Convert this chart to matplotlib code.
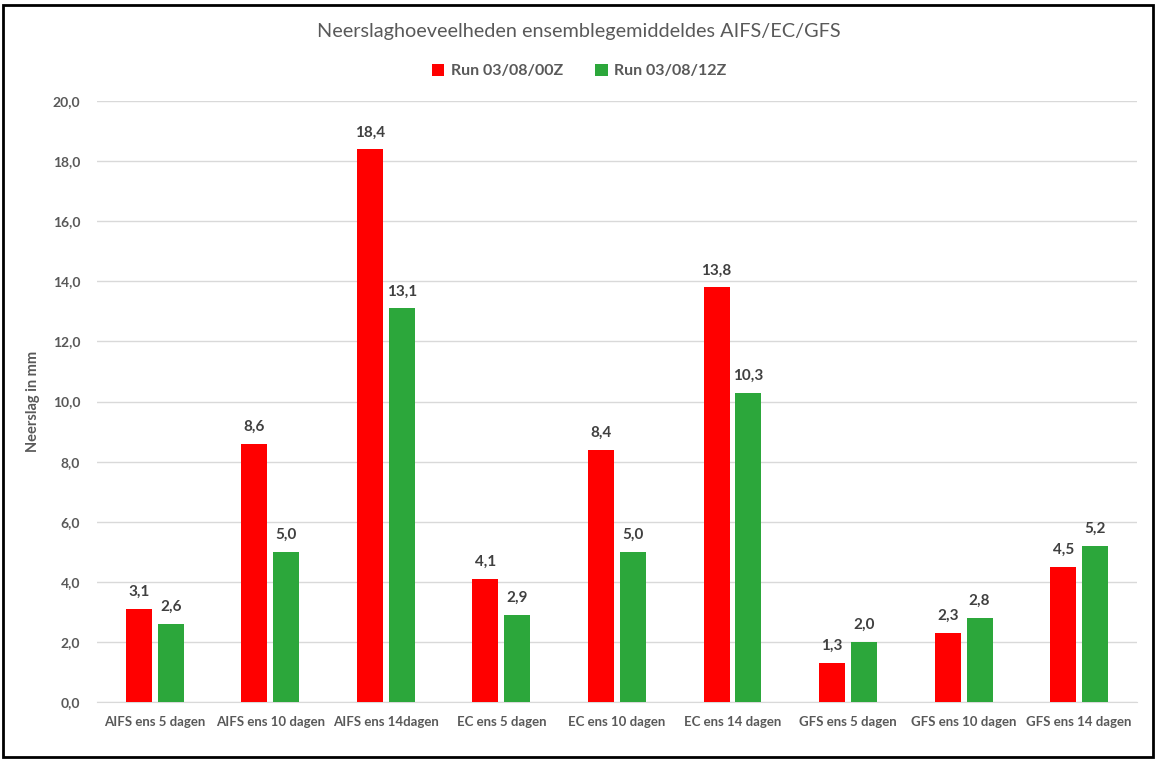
import numpy as np
import matplotlib.pyplot as plt
from matplotlib.patches import Rectangle

# --- Data ---
categories = ["AIFS ens 5 dagen", "AIFS ens 10 dagen", "AIFS ens 14dagen",
              "EC ens 5 dagen", "EC ens 10 dagen", "EC ens 14 dagen",
              "GFS ens 5 dagen", "GFS ens 10 dagen", "GFS ens 14 dagen"]
run_00z = [3.1, 8.6, 18.4, 4.1, 8.4, 13.8, 1.3, 2.3, 4.5]
run_12z = [2.6, 5.0, 13.1, 2.9, 5.0, 10.3, 2.0, 2.8, 5.2]
series_names = ["Run 03/08/00Z", "Run 03/08/12Z"]
y_ticks = np.arange(0, 21, 2)

plt.rcParams['font.family'] = ['Lato', 'DejaVu Sans']
TXT = "#595959"

fig = plt.figure(figsize=(11.58, 7.6), dpi=100)
ax = fig.add_axes([0.0838, 0.0763, 0.898, 0.7907])

x = np.arange(len(categories))
w = 0.225
off = 0.138
b1 = ax.bar(x - off, run_00z, w, color="#ff0000", label=series_names[0], zorder=3)
b2 = ax.bar(x + off, run_12z, w, color="#2ca73b", label=series_names[1], zorder=3)

# waarden boven de staven
for bars, vals in ((b1, run_00z), (b2, run_12z)):
    for r, v in zip(bars, vals):
        ax.annotate(f"{v:.1f}".replace(".", ","), (r.get_x() + r.get_width() / 2, v),
                    xytext=(0, 7), textcoords="offset points", ha="center", va="bottom",
                    fontsize=11, fontweight="bold", color="#404040")

ax.set_xlim(-0.5, len(categories) - 0.5)
ax.set_ylim(0, 20)
ax.set_yticks(y_ticks)
ax.set_yticklabels([f"{t:.1f}".replace(".", ",") for t in y_ticks])
ax.set_xticks(x)
ax.set_xticklabels(categories)
ax.tick_params(axis="both", length=0, labelsize=10, colors=TXT)
ax.tick_params(axis="x", pad=10, labelsize=9.5)
ax.tick_params(axis="y", pad=12)
for lab in ax.get_xticklabels() + ax.get_yticklabels():
    lab.set_fontweight("bold")

ax.grid(axis="y", color="#d9d9d9", linewidth=1, zorder=0)
for s in ["top", "right", "left"]:
    ax.spines[s].set_visible(False)
ax.spines["bottom"].set_color("#d9d9d9")

ax.set_ylabel("Neerslag in mm", fontsize=10.5, fontweight="bold", color=TXT)
ax.yaxis.set_label_coords(-0.055, 0.5)

fig.text(0.5, 1 - 31 / 760, "Neerslaghoeveelheden ensemblegemiddeldes AIFS/EC/GFS",
         ha="center", va="center", fontsize=14.3, color=TXT)

fig.legend(loc="center", bbox_to_anchor=(0.5, 1 - 71 / 760), ncol=2, frameon=False,
           prop={"weight": "bold", "size": 11.5}, labelcolor=TXT, handlelength=0.8,
           handleheight=0.8, handletextpad=0.4, columnspacing=2.0)

fig.patches.append(Rectangle((0.003, 0.004), 0.993, 0.99, transform=fig.transFigure,
                             fill=False, edgecolor="black", linewidth=2))

plt.savefig("out.png", dpi=100)
